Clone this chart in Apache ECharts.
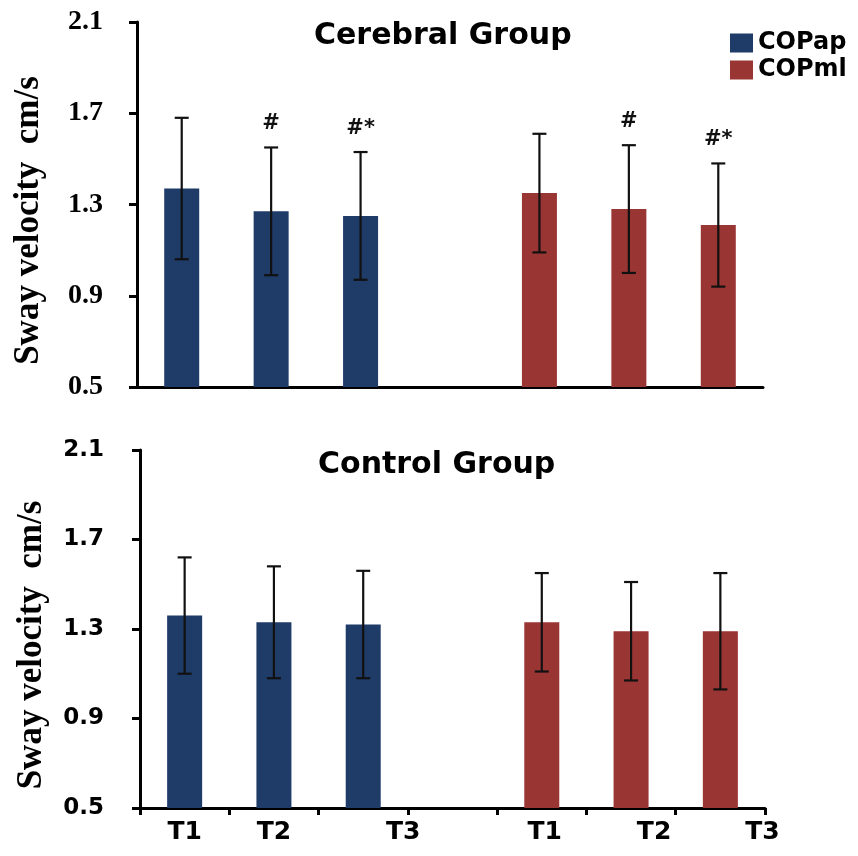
<!DOCTYPE html>
<html><head><meta charset="utf-8">
<script src="https://cdn.jsdelivr.net/npm/echarts@6/dist/echarts.min.js"></script>
<style>html,body{margin:0;padding:0;background:#fff}#c{width:858px;height:856px}</style>
</head><body><div id="c"></div>
<script>
// ---- data ----
const categories = ['T1', 'T2', 'T3', '', 'T1', 'T2', 'T3'];
const seriesNames = ['COPap', 'COPml'];
const panelTitles = ['Cerebral Group', 'Control Group'];
const yName = 'Sway velocity  cm/s';
const yMin = 0.5, yMax = 2.1, yStep = 0.4;

const cerebralAp = [1.37, 1.27, 1.25];
const cerebralApErr = [0.31, 0.28, 0.28];
const cerebralMl = [1.35, 1.28, 1.21];
const cerebralMlErr = [0.26, 0.28, 0.27];
const cerebralMarks = ['', '#', '#*'];

const controlAp = [1.36, 1.33, 1.32];
const controlApErr = [0.26, 0.25, 0.24];
const controlMl = [1.33, 1.29, 1.29];
const controlMlErr = [0.22, 0.22, 0.26];
const controlMarks = ['', '', ''];

// ---- styling ----
const BLUE = '#1f3b68', RED = '#993533';
const SANS = '"DejaVu Sans", Verdana, sans-serif';
const SERIF = '"Liberation Serif", "Times New Roman", serif';

function padded(vals, offset) {
  const out = categories.map(() => '-');
  vals.forEach((v, i) => { out[i + offset] = v; });
  return out;
}
function errData(vals, errs, offset) {
  return vals.map((v, i) => [i + offset, +(v - errs[i]).toFixed(3), +(v + errs[i]).toFixed(3)]);
}
function makeRender(marks) {
  return function (params, api) {
    const x = api.value(0), lo = api.value(1), hi = api.value(2);
    const pHi = api.coord([x, hi]), pLo = api.coord([x, lo]);
    const w = 7;
    const st = { stroke: '#111', lineWidth: 2.2 };
    const ch = [
      { type: 'line', shape: { x1: pHi[0], y1: pHi[1], x2: pLo[0], y2: pLo[1] }, style: st },
      { type: 'line', shape: { x1: pHi[0] - w, y1: pHi[1], x2: pHi[0] + w, y2: pHi[1] }, style: st },
      { type: 'line', shape: { x1: pLo[0] - w, y1: pLo[1], x2: pLo[0] + w, y2: pLo[1] }, style: st }
    ];
    const m = marks[params.dataIndex % marks.length];
    if (m) {
      ch.push({ type: 'text', x: pHi[0], y: pHi[1] - 13,
        style: { text: m, fill: '#111', font: 'bold 21px ' + SANS, align: 'center', verticalAlign: 'bottom' } });
    }
    return { type: 'group', children: ch };
  };
}

const axisLine = { show: true, lineStyle: { color: '#000', width: 3 } };
function yAxis(grid, labelFont, labelSize, margin) {
  return {
    type: 'value', gridIndex: grid, min: yMin, max: yMax, interval: yStep,
    name: yName, nameLocation: 'middle', nameGap: 91,
    nameTextStyle: { fontFamily: SERIF, fontWeight: 'bold', fontSize: 35, color: '#000', padding: [0, 32, 0, 0] },
    axisLine: axisLine,
    axisTick: { show: true, length: 8, lineStyle: { color: '#000', width: 3 } },
    splitLine: { show: false },
    axisLabel: { formatter: v => v.toFixed(1), fontFamily: labelFont, fontWeight: 'bold',
      fontSize: labelSize, color: '#000', margin: margin }
  };
}
const labelShift = [0, 0, 80, 0, 6, 46, 84];
const rich = {};
labelShift.forEach((p, i) => {
  rich['p' + i] = { padding: [0, 0, 0, p], fontFamily: SANS, fontWeight: 'bold', fontSize: 25, color: '#000' };
});

const option = {
  animation: false,
  backgroundColor: '#fff',
  title: [
    { text: panelTitles[0], left: 309, top: 16, textStyle: { fontFamily: SANS, fontWeight: 'bold', fontSize: 30, color: '#000' } },
    { text: panelTitles[1], left: 313, top: 445, textStyle: { fontFamily: SANS, fontWeight: 'bold', fontSize: 30, color: '#000' } }
  ],
  legend: {
    data: seriesNames, orient: 'vertical', left: 725, top: 26,
    icon: 'rect', itemWidth: 23, itemHeight: 19, itemGap: 3, itemStyle: { borderWidth: 0 },
    textStyle: { fontFamily: SANS, fontWeight: 'bold', fontSize: 24, color: '#000' }
  },
  grid: [
    { left: 137, top: 22, width: 626, height: 365 },
    { left: 140, top: 450, width: 625, height: 358 }
  ],
  xAxis: [
    { type: 'category', gridIndex: 0, data: categories, axisLine: axisLine,
      axisTick: { show: false }, axisLabel: { show: false } },
    { type: 'category', gridIndex: 1, data: categories, axisLine: axisLine,
      axisTick: { show: true, length: 7, lineStyle: { color: '#000', width: 3 } },
      axisLabel: { interval: 0, margin: 12, formatter: (v, i) => v ? '{p' + i + '|' + v + '}' : '', rich: rich } }
  ],
  yAxis: [
    yAxis(0, SERIF, 28, 34),
    yAxis(1, SANS, 23, 36)
  ],
  series: [
    { type: 'bar', name: seriesNames[0], xAxisIndex: 0, yAxisIndex: 0, data: padded(cerebralAp, 0),
      barWidth: 35, barGap: '-100%', itemStyle: { color: BLUE } },
    { type: 'bar', name: seriesNames[1], xAxisIndex: 0, yAxisIndex: 0, data: padded(cerebralMl, 4),
      barWidth: 35, barGap: '-100%', itemStyle: { color: RED } },
    { type: 'bar', name: seriesNames[0], xAxisIndex: 1, yAxisIndex: 1, data: padded(controlAp, 0),
      barWidth: 35, barGap: '-100%', itemStyle: { color: BLUE } },
    { type: 'bar', name: seriesNames[1], xAxisIndex: 1, yAxisIndex: 1, data: padded(controlMl, 4),
      barWidth: 35, barGap: '-100%', itemStyle: { color: RED } },
    { type: 'custom', xAxisIndex: 0, yAxisIndex: 0, z: 10, silent: true, encode: { x: 0, y: [1, 2] },
      renderItem: makeRender(cerebralMarks), data: errData(cerebralAp, cerebralApErr, 0) },
    { type: 'custom', xAxisIndex: 0, yAxisIndex: 0, z: 10, silent: true, encode: { x: 0, y: [1, 2] },
      renderItem: makeRender(cerebralMarks), data: errData(cerebralMl, cerebralMlErr, 4) },
    { type: 'custom', xAxisIndex: 1, yAxisIndex: 1, z: 10, silent: true, encode: { x: 0, y: [1, 2] },
      renderItem: makeRender(controlMarks), data: errData(controlAp, controlApErr, 0) },
    { type: 'custom', xAxisIndex: 1, yAxisIndex: 1, z: 10, silent: true, encode: { x: 0, y: [1, 2] },
      renderItem: makeRender(controlMarks), data: errData(controlMl, controlMlErr, 4) }
  ]
};
const chart = echarts.init(document.getElementById('c'), null, { renderer: 'canvas' });
chart.setOption(option);
</script></body></html>
